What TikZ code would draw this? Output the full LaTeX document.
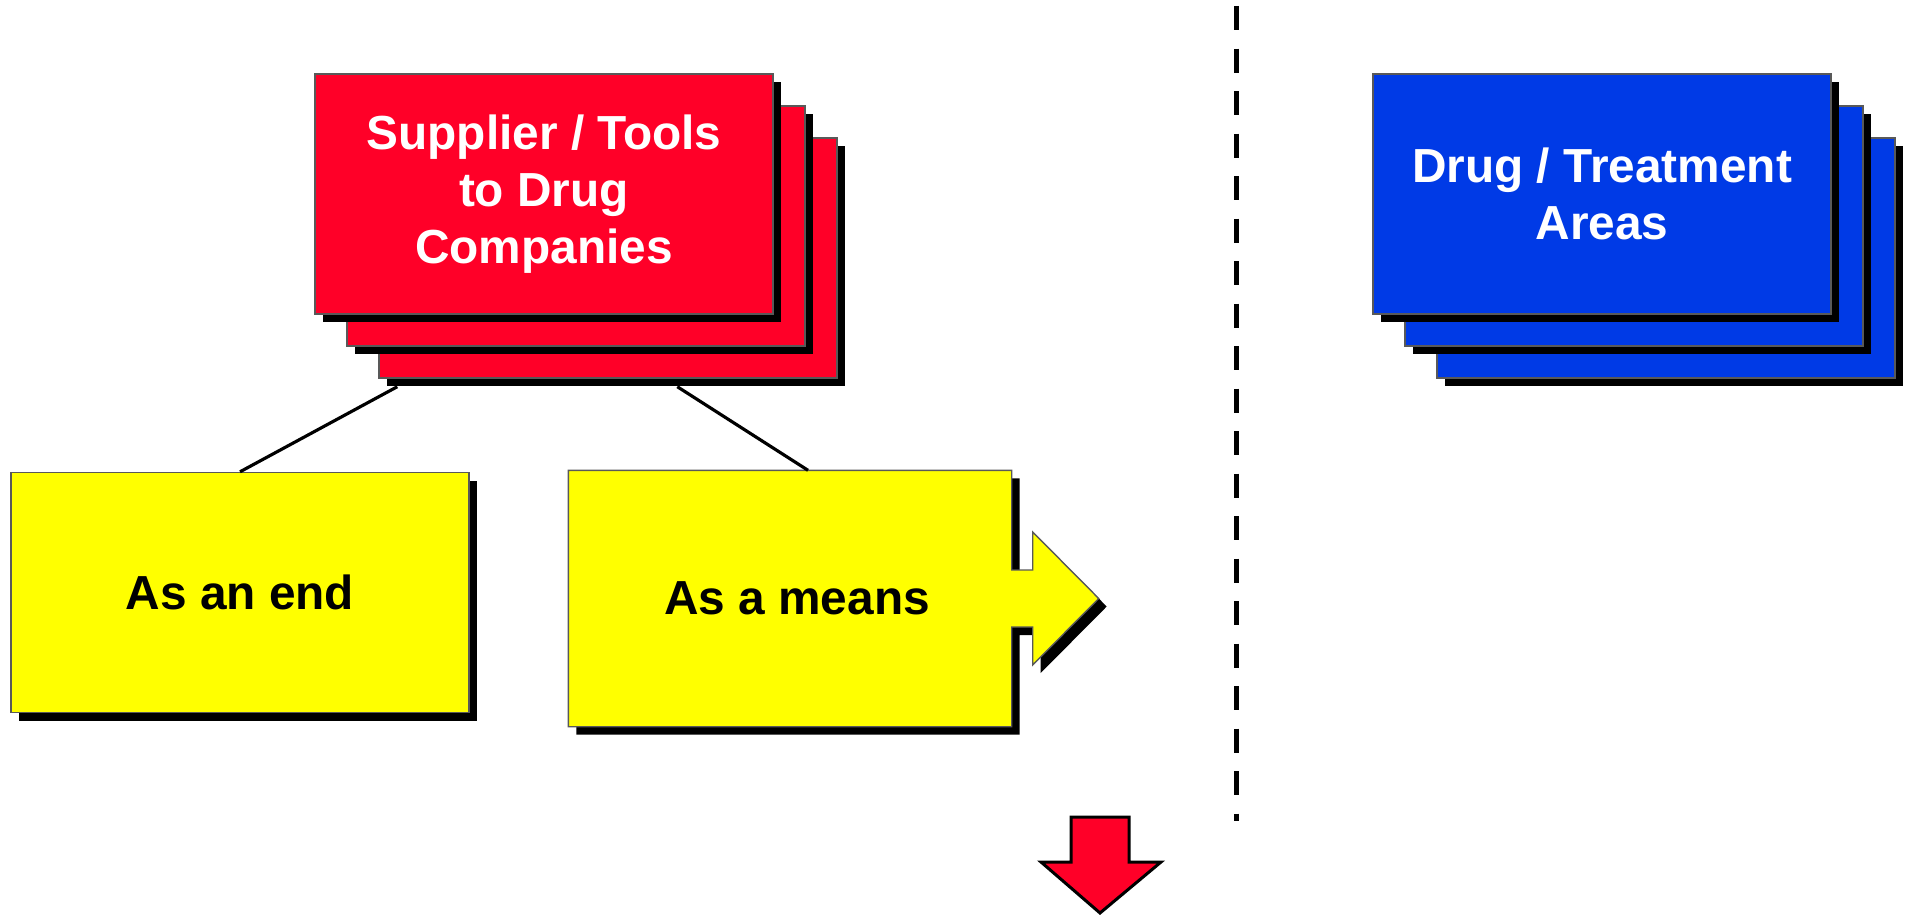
\documentclass[tikz,border=0pt]{standalone}
\usepackage{fontspec}
\setmainfont{Liberation Sans}
\usetikzlibrary{calc,shadows}

\definecolor{cardred}{RGB}{255,0,40}
\definecolor{cardblue}{RGB}{0,58,230}
\definecolor{cardyellow}{RGB}{255,255,0}

\tikzset{
  hardshadow/.style={drop shadow={shadow xshift=0.08cm, shadow yshift=-0.08cm, fill=black, opacity=1}},
  card/.style={rectangle, minimum width=4.58cm, minimum height=2.40cm, inner sep=0pt,
    draw=black!65, line width=0.4pt, hardshadow, align=center,
    font=\bfseries\fontsize{13.6}{16.2}\selectfont},
  redcard/.style={card, fill=cardred, text=white},
  bluecard/.style={card, fill=cardblue, text=white},
  yellowcard/.style={card, fill=cardyellow, text=black}
}

\begin{document}
\begin{tikzpicture}
  \useasboundingbox (0,0) rectangle (19.09,-9.15);

  % supplier stack
  \node[redcard] (supp3) at (6.08,-2.58) {};
  \node[redcard] (supp2) at (5.76,-2.26) {};
  \node[redcard] (supp1) at (5.44,-1.94) {Supplier / Tools\\to Drug\\Companies};

  % drug stack
  \node[bluecard] (drug3) at (16.66,-2.58) {};
  \node[bluecard] (drug2) at (16.34,-2.26) {};
  \node[bluecard] (drug1) at (16.02,-1.94) {Drug / Treatment\\Areas};

  % the two ways
  \node[yellowcard] (asend) at (2.40,-5.925) {As an end};
  \node[card, draw=none, drop shadow/.style={}, minimum width=4.42cm, minimum height=2.55cm] (asmeans) at (7.90,-5.985) {\hspace*{0.14cm}As a means};
  \begin{scope}[on background layer/.try]
  \end{scope}
  \fill[black] ($(asmeans.north west)+(0.08,-0.08)$) -- ($(asmeans.north east)+(0.08,-0.08)$)
    -- ($(asmeans.east)+(0.08,0.205)$) -- ($(asmeans.east)+(0.29,0.205)$)
    -- ($(asmeans.east)+(0.29,0.585)$) -- ($(asmeans.east)+(0.95,-0.08)$)
    -- ($(asmeans.east)+(0.29,-0.745)$) -- ($(asmeans.east)+(0.29,-0.365)$)
    -- ($(asmeans.east)+(0.08,-0.365)$) -- ($(asmeans.south east)+(0.08,-0.08)$)
    -- ($(asmeans.south west)+(0.08,-0.08)$) -- cycle;
  \filldraw[fill=cardyellow, draw=black!65, line width=0.4pt] (asmeans.north west) -- (asmeans.north east)
    -- ($(asmeans.east)+(0,0.285)$) -- ($(asmeans.east)+(0.21,0.285)$)
    -- ($(asmeans.east)+(0.21,0.665)$) -- ($(asmeans.east)+(0.87,0)$)
    -- ($(asmeans.east)+(0.21,-0.665)$) -- ($(asmeans.east)+(0.21,-0.285)$)
    -- ($(asmeans.east)+(0,-0.285)$) -- (asmeans.south east)
    -- (asmeans.south west) -- cycle;
  \node[font=\bfseries\fontsize{13.6}{16.2}\selectfont] (meanstext) at (asmeans.center) {\hspace*{0.14cm}As a means};

  % connectors
  \draw[line width=0.9pt] ($(supp3.south west)+(0.19,-0.08)$) -- (asend.north);
  \draw[line width=0.9pt] ($(supp3.south west)+(2.99,-0.08)$) -- ($(asmeans.north)+(0.18,0)$);

  % divider
  \coordinate (divtop) at (12.36,-0.06);
  \coordinate (divbot) at (12.36,-8.21);
  \draw[line width=0.05cm, dash pattern=on 0.24cm off 0.185cm] (divtop) -- (divbot);

  % down arrow
  \filldraw[fill=cardred, draw=black, line width=0.03cm, line join=miter]
    (10.71,-8.17) -- (11.29,-8.17) -- (11.29,-8.62) -- (11.61,-8.62)
    -- (11.00,-9.13) -- (10.41,-8.62) -- (10.71,-8.62) -- cycle;
\end{tikzpicture}
\end{document}
